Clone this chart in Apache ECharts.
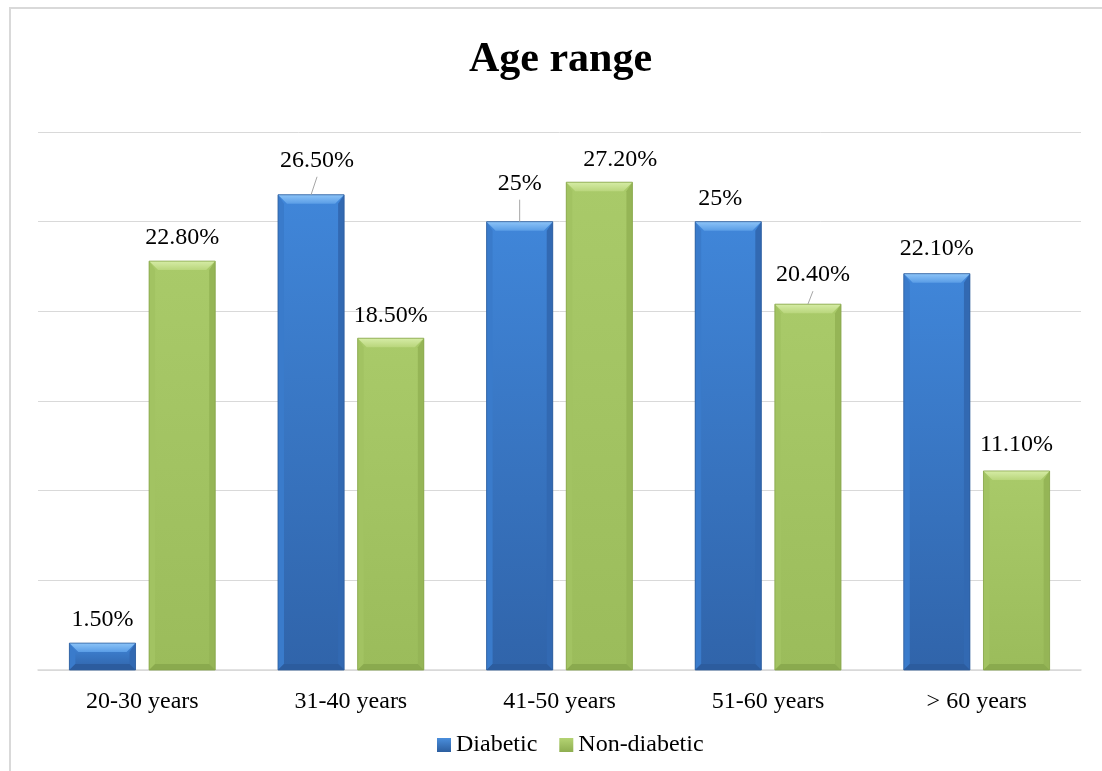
<!DOCTYPE html>
<html>
<head>
<meta charset="utf-8">
<title>Age range</title>
<script src="https://cdn.jsdelivr.net/npm/echarts@6/dist/echarts.min.js"></script>
<style>
  html, body { margin: 0; padding: 0; background: #ffffff; }
  #chart { width: 1102px; height: 771px; }
</style>
</head>
<body>
<div id="chart"></div>
<script>
// Age groups and the share (%) of each group in the two populations
const categories = ['20-30 years', '31-40 years', '41-50 years', '51-60 years', '> 60 years'];
const seriesNames = ['Diabetic', 'Non-diabetic'];
const diabetic = [1.5, 26.5, 25, 25, 22.1];
const nonDiabetic = [22.8, 18.5, 27.2, 20.4, 11.1];

// Value axis ticks (percent)
const yMin = 0;
const yMax = 30;
const yStep = 5;

// Label nudges [dx, dy] in px and whether a leader line is drawn
const labelNudge = [
  [[0, 0], [6, -11], [0, -15], [-8, 0], [0, -2]],
  [[0, 0], [0, 0], [21, 0], [5, -6], [0, -3]]
];
const labelLeader = [
  [false, true, true, false, false],
  [false, false, false, true, false]
];

const FONT = '"Liberation Serif", "Times New Roman", serif';

// Bevelled bar palettes
const palettes = [
  { // blue
    faceTop: '#4086D9', faceBottom: '#3064AA',
    capTop: '#8CC4F8', capBottom: '#5A9DE6',
    left: '#3A7BCB', right: '#3269B2', bottom: '#2C5C9E',
    stroke: '#2D5D9C'
  },
  { // green
    faceTop: '#A9CA69', faceBottom: '#9BBC5B',
    capTop: '#D6ECA6', capBottom: '#B9D67C',
    left: '#A2C362', right: '#95B556', bottom: '#8AAA4E',
    stroke: '#86A44A'
  }
];

function vGrad(c0, c1) {
  return new echarts.graphic.LinearGradient(0, 0, 0, 1, [
    { offset: 0, color: c0 }, { offset: 1, color: c1 }
  ]);
}

function fmt(v) {
  return (Number.isInteger(v) ? String(v) : v.toFixed(2)) + '%';
}

function makeRender(s) {
  const pal = palettes[s];
  return function (params, api) {
    const ci = api.value(0);
    const v = api.value(1);
    const base = api.coord([ci, 0]);
    const top = api.coord([ci, v]);
    const band = api.size([1, 0])[0];
    const w = band * 0.317;
    const gap = band * 0.065;
    const cx = base[0] + (s === 0 ? -1 : 1) * (w + gap) / 2;
    const x0 = cx - w / 2, x1 = cx + w / 2;
    const yT = top[1], yB = base[1];
    const h = yB - yT;
    const b = Math.min(9, h / 3);
    const bs = Math.min(6, h / 3);

    const children = [
      { type: 'rect', shape: { x: x0, y: yT, width: w, height: h },
        style: { fill: vGrad(pal.faceTop, pal.faceBottom) } },
      { type: 'polygon', shape: { points: [[x0, yT], [x0 + bs, yT + b], [x0 + bs, yB - bs], [x0, yB]] },
        style: { fill: pal.left } },
      { type: 'polygon', shape: { points: [[x1, yT], [x1, yB], [x1 - bs, yB - bs], [x1 - bs, yT + b]] },
        style: { fill: pal.right } },
      { type: 'polygon', shape: { points: [[x0, yB], [x0 + bs, yB - bs], [x1 - bs, yB - bs], [x1, yB]] },
        style: { fill: pal.bottom } },
      { type: 'polygon', shape: { points: [[x0, yT], [x1, yT], [x1 - b, yT + b], [x0 + b, yT + b]] },
        style: { fill: vGrad(pal.capTop, pal.capBottom) } },
      { type: 'rect', shape: { x: x0, y: yT, width: w, height: h },
        style: { fill: null, stroke: pal.stroke, lineWidth: 0.8 } }
    ];

    const nd = labelNudge[s][params.dataIndex];
    const lx = cx + nd[0];
    const ly = yT - 23 + nd[1];
    if (labelLeader[s][params.dataIndex]) {
      children.push({
        type: 'line',
        shape: { x1: cx, y1: yT, x2: lx, y2: ly + 16 },
        style: { stroke: '#A6A6A6', lineWidth: 1 }
      });
    }
    children.push({
      type: 'text',
      style: {
        text: fmt(v), x: lx, y: ly,
        align: 'center', verticalAlign: 'middle',
        fontSize: 24, fontFamily: FONT, fill: '#000000'
      }
    });
    return { type: 'group', children: children };
  };
}

const chart = echarts.init(document.getElementById('chart'), null, { renderer: 'canvas' });

chart.setOption({
  backgroundColor: '#ffffff',
  animation: false,
  graphic: [{
    type: 'rect',
    shape: { x: 10, y: 8, width: 1110, height: 800 },
    style: { fill: null, stroke: '#D9D9D9', lineWidth: 2 },
    silent: true
  }],
  title: {
    text: 'Age range',
    left: 464,
    top: 34,
    textStyle: { fontFamily: FONT, fontSize: 42, fontWeight: 'bold', color: '#000000' }
  },
  legend: {
    data: [
      { name: seriesNames[0], itemStyle: { color: vGrad('#4A8EDC', '#2C5E9F') } },
      { name: seriesNames[1], itemStyle: { color: vGrad('#B4D373', '#8EAE50') } }
    ],
    left: 432,
    top: 728,
    icon: 'rect',
    itemWidth: 14,
    itemHeight: 14,
    itemGap: 22,
    textStyle: { fontFamily: FONT, fontSize: 24, color: '#000000', lineHeight: 24 }
  },
  grid: { left: 38, right: 21, top: 132, bottom: 101, containLabel: false },
  xAxis: {
    type: 'category',
    data: categories,
    axisLine: { show: true, lineStyle: { color: '#D9D9D9', width: 1.5 } },
    axisTick: { show: false },
    axisLabel: { margin: 20, fontFamily: FONT, fontSize: 24, color: '#000000', lineHeight: 24 },
    splitLine: { show: false }
  },
  yAxis: {
    type: 'value',
    min: yMin,
    max: yMax,
    interval: yStep,
    axisLine: { show: false },
    axisTick: { show: false },
    axisLabel: { show: false },
    splitLine: { show: true, lineStyle: { color: '#D9D9D9', width: 1 } }
  },
  series: [
    {
      name: seriesNames[0],
      type: 'custom',
      renderItem: makeRender(0),
      encode: { x: 0, y: 1 },
      itemStyle: { color: '#3A78C6' },
      data: diabetic.map((v, i) => [i, v]),
      z: 3
    },
    {
      name: seriesNames[1],
      type: 'custom',
      renderItem: makeRender(1),
      encode: { x: 0, y: 1 },
      itemStyle: { color: '#A0C262' },
      data: nonDiabetic.map((v, i) => [i, v]),
      z: 3
    }
  ]
});
</script>
</body>
</html>
